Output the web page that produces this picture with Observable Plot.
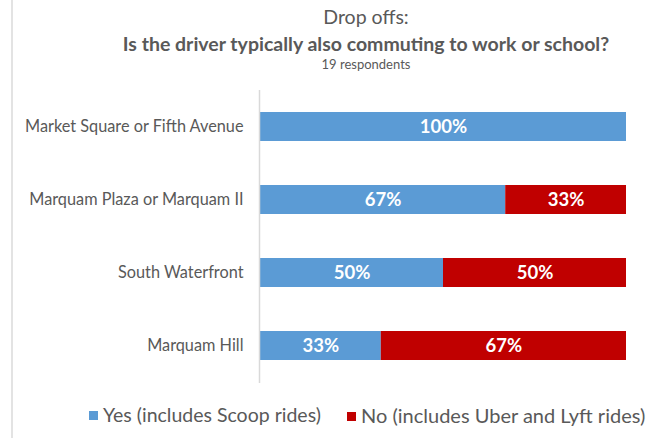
<!DOCTYPE html>
<html>
<head>
<meta charset="utf-8">
<script src="https://cdn.jsdelivr.net/npm/d3@7"></script>
<script src="https://cdn.jsdelivr.net/npm/@observablehq/plot@0.6"></script>
<style>
  html, body { margin: 0; padding: 0; background: #fff; }
  #wrap { position: relative; width: 663px; height: 438px; overflow: hidden; font-family: Lato, "Open Sans", sans-serif; color: #595959; }
  #border { position: absolute; left: 11px; top: 0; width: 2px; height: 438px; background: #e3e3e3; }
  .t { position: absolute; left: 66px; width: 600px; text-align: center; white-space: nowrap; line-height: 1; }
  #t1 { top: 7px; font-size: 19.5px; }
  #t2 { top: 33.5px; font-size: 19.5px; font-weight: bold; }
  #t3 { top: 58px; font-size: 13px; }
  #chart { position: absolute; left: 0; top: 80px; }
  .lg { position: absolute; top: 403px; font-size: 19.5px; line-height: 1.2; white-space: nowrap; }
  .sw { display: inline-block; width: 9px; height: 9px; margin-right: 5px; vertical-align: 2px; }
</style>
</head>
<body>
<div id="wrap">
  <div id="border"></div>
  <div class="t" id="t1">Drop offs:</div>
  <div class="t" id="t2">Is the driver typically also commuting to work or school?</div>
  <div class="t" id="t3">19 respondents</div>
  <div id="chart"></div>
  <div class="lg" id="lg1" style="left:89px"><span class="sw" style="background:#5B9BD5"></span>Yes (includes Scoop rides)</div>
  <div class="lg" id="lg2" style="left:347px; font-size:20px"><span class="sw" style="background:#C00000"></span>No (includes Uber and Lyft rides)</div>
</div>
<script>
const sites = ["Market Square or Fifth Avenue", "Marquam Plaza or Marquam II", "South Waterfront", "Marquam Hill"];
const seriesNames = ["Yes (includes Scoop rides)", "No (includes Uber and Lyft rides)"];
const yesValues = [100, 67, 50, 33];
const noValues = [0, 33, 50, 67];
const colors = ["#5B9BD5", "#C00000"];

const data = [];
sites.forEach((s, i) => {
  data.push({site: s, series: seriesNames[0], value: yesValues[i]});
  data.push({site: s, series: seriesNames[1], value: noValues[i]});
});
const shown = data.filter(d => d.value > 0);

const chart = Plot.plot({
  width: 663,
  height: 318,
  marginTop: 10,
  marginBottom: 15,
  marginLeft: 260,
  marginRight: 37,
  style: {fontFamily: "Lato, 'Open Sans', sans-serif", color: "#595959", background: "transparent"},
  x: {domain: [0, 100], axis: null},
  y: {domain: sites, paddingInner: 0.6, paddingOuter: 0.3, label: null},
  color: {domain: seriesNames, range: colors},
  marks: [
    Plot.barX(shown, Plot.stackX({x: "value", y: "site", fill: "series", order: seriesNames})),
    Plot.ruleX([0], {stroke: "#d9d9d9", strokeWidth: 1.5, dx: -1}),
    Plot.text(shown, Plot.stackX({x: "value", y: "site", z: "series", order: seriesNames, text: d => d.value + "%", fill: "white", fontWeight: "bold", fontSize: 18.5})),
    Plot.axisY({tickSize: 0, tickPadding: 17, fontSize: 16.3, label: null})
  ]
});
document.getElementById("chart").appendChild(chart);
</script>
</body>
</html>
